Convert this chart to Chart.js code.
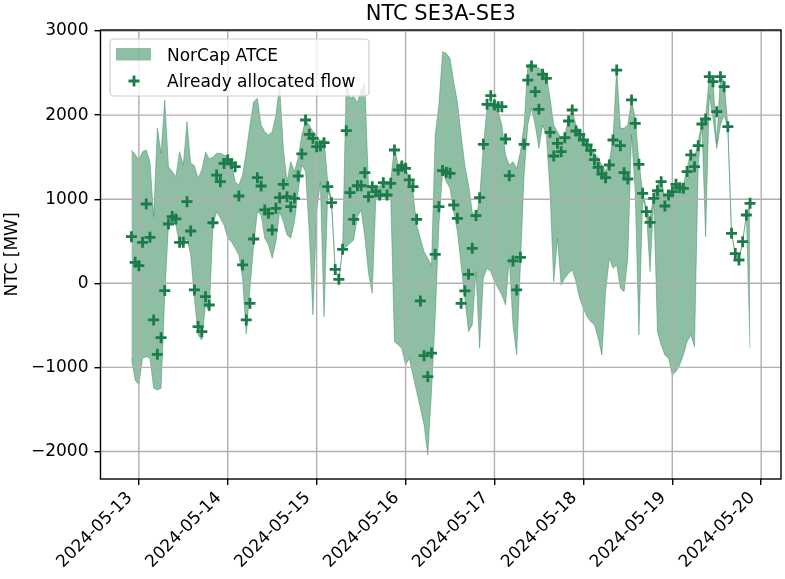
<!DOCTYPE html>
<html>
<head>
<meta charset="utf-8">
<title>NTC SE3A-SE3</title>
<script src="https://cdn.jsdelivr.net/npm/chart.js@4.4.1/dist/chart.umd.min.js"></script>
<style>
  html, body { margin: 0; padding: 0; background: #fff; }
  #ntcChart { display: block; }
</style>
</head>
<body>
<canvas id="ntcChart" width="785" height="579"></canvas>
<script>
// Hourly series, first value is 2024-05-12 22:00 (UTC), last is 2024-05-19 21:00
const firstHour = -2;   // hours relative to 2024-05-13 00:00

const upperAtce = [
  1585, 1534, 1466, 1565, 1585, 1447, 793, 1843, 1546, 2180, 1387, 1328,
  1268, 1565, 1407, 1922, 1427, 1400, 1250, 1350, 1560, 1480, 1500, 1546,
  1546, 1526, 1506, 1450, 1209, 1169, 1288, 1565, 1882, 2160, 2200, 1882,
  1803, 1764, 1803, 2001, 2358, 1605, 1209, 1446, 1328, 1486, 1764, 1942,
  1882, 1803, 1764, 1684, 1724, 1200, 1000, 165, 47, 404, 2420, 2200,
  2220, 2150, 2300, 2380, 1149, 1149, 1169, 1149, 1228, 1189, 1228, 1625,
  1407, 1446, 1367, 1248, 1090, 693, 535, 376, 297, 218, 1764, 2120,
  2754, 2734, 2675, 2398, 2160, 1764, 1407, 1169, 852, 773, 1010, 1645,
  2081, 2180, 2120, 2041, 1882, 1526, 1407, 1446, 1367, 1565, 1882, 2596,
  2615, 2576, 2556, 2536, 2477, 2200, 1882, 1803, 1724, 1764, 1962, 2061,
  1882, 1803, 1724, 1664, 1625, 1546, 1486, 1407, 1328, 1446, 1724, 2556,
  1843, 1843, 1882, 2180, 1962, 1446, 1090, 892, 773, 1050, 1169, 1248,
  1010, 1070, 1110, 1209, 1169, 1169, 1367, 1565, 1486, 1684, 1922, 1962,
  2477, 2437, 1664, 2477, 2398, 1880, 594, 354, 277, 495, 812, 951
];

const lowerAtce = [
  -892, -1149, -1209, -892, -872, -892, -1248, -1268, -1248, -139, 693, 733,
  693, 456, 456, 535, 337, -178, -614, -674, -258, -337, 693, 852,
  773, 693, 535, 495, 416, 337, 59, -600, -59, 456, 852, 812,
  535, 456, 297, 495, 852, 733, 575, 535, 733, 1090, 1407, 1328,
  614, -376, 852, 1209, -400, 1100, 950, 165, 47, 404, 435, 475,
  515, 792, 871, 554, 119, -119, 1030, 990, 1030, 1010, 1030, -694,
  -733, -773, -971, -892, -1090, -1288, -1486, -1684, -2041, -1288, -416, 693,
  1328, 1209, 1129, 852, 614, 218, -178, -575, -495, 139, -773, 59,
  178, 139, 20, -59, -139, -258, 297, -495, -852, 218, 1288, 1882,
  2081, 1882, 1605, 1882, 1764, 1090, 20, 535, -20, 59, 119, 159,
  20, -178, -297, -396, -456, -495, -654, -852, -99, 297, 178, 218,
  -59, -99, 297, 1764, 1090, -614, 1010, 852, 139, 1010, -575, -733,
  -852, -892, -1090, -1050, -971, -852, -694, -614, -754, 1407, 1882, 555,
  2239, 1962, 1605, 1882, 2001, 1840, 594, 354, 277, 495, 812, -773
];

const allocatedFlow = [
  555, 250, 210, 487, 943, 547, -436, -844, -646, -87, 705, 793,
  765, 487, 487, 971, 622, -79, -515, -575, -159, -258, 720, 1287,
  1208, 1426, 1466, 1426, 1387, 1038, 218, -436, -238, 527, 1256, 1157,
  872, 832, 634, 892, 1018, 1177, 1030, 911, 1010, 1276, 1538, 1942,
  1771, 1724, 1625, 1632, 1672, 1149, 959, 165, 47, 404, 1815, 1078,
  760, 1160, 1160, 1315, 1030, 1149, 1090, 1050, 1197, 1050, 1189, 1585,
  1347, 1395, 1367, 1229, 1149, 761, -210, -860, -1110, -830, 345, 911,
  1340, 1320, 1308, 931, 773, -238, -91, 107, 416, 805, 1018, 1653,
  2128, 2231, 2120, 2100, 2100, 1716, 1280, 266, -79, 309, 1653, 2417,
  2584, 2279, 2069, 2485, 2437, 1795, 1514, 1664, 1565, 1732, 1930, 2061,
  1811, 1771, 1704, 1645, 1580, 1470, 1380, 1300, 1256, 1407, 1704, 2536,
  1637, 1316, 1240, 2180, 1902, 1415, 1070, 852, 725, 1010, 1102, 1209,
  919, 1050, 1090, 1177, 1137, 1129, 1328, 1526, 1387, 1637, 1894, 1954,
  2457, 2398, 2041, 2457, 2338, 1863, 594, 354, 277, 495, 812, 951
];

const dayTicks = [0, 24, 48, 72, 96, 120, 144, 168];
const dayLabels = ['2024-05-13', '2024-05-14', '2024-05-15', '2024-05-16',
                   '2024-05-17', '2024-05-18', '2024-05-19', '2024-05-20'];
const yTicks = [-2000, -1000, 0, 1000, 2000, 3000];

const chartTitle = 'NTC SE3A-SE3';
const yTitle = 'NTC [MW]';

const markColor = 'rgb(27, 124, 73)';
const bandColor = 'rgba(30, 128, 76, 0.5)';
const fontFamily = "'DejaVu Sans', sans-serif";

// hour offsets for every sample
const hours = upperAtce.map((_, i) => firstHour + i);
const toPoints = arr => arr.map((v, i) => ({ x: hours[i], y: v }));

function fmtTick(v) {
  return v < 0 ? '\u2212' + Math.abs(v) : String(v);
}

// gridlines sit above the band but below the markers
function drawGrid(chart) {
  const { ctx, chartArea: a, scales: { x, y } } = chart;
  ctx.save();
  ctx.strokeStyle = '#b0b0b0';
  ctx.lineWidth = 1.4;
  ctx.beginPath();
  dayTicks.forEach(v => {
    const px = x.getPixelForValue(v);
    ctx.moveTo(px, a.top);
    ctx.lineTo(px, a.bottom);
  });
  yTicks.forEach(v => {
    const py = y.getPixelForValue(v);
    ctx.moveTo(a.left, py);
    ctx.lineTo(a.right, py);
  });
  ctx.stroke();
  ctx.restore();
}

function drawCross(ctx, cx, cy, r, w) {
  ctx.save();
  ctx.strokeStyle = markColor;
  ctx.lineWidth = w;
  ctx.beginPath();
  ctx.moveTo(cx - r, cy);
  ctx.lineTo(cx + r, cy);
  ctx.moveTo(cx, cy - r);
  ctx.lineTo(cx, cy + r);
  ctx.stroke();
  ctx.restore();
}

function roundRect(ctx, x, y, w, h, r) {
  ctx.beginPath();
  ctx.moveTo(x + r, y);
  ctx.lineTo(x + w - r, y);
  ctx.arcTo(x + w, y, x + w, y + r, r);
  ctx.lineTo(x + w, y + h - r);
  ctx.arcTo(x + w, y + h, x + w - r, y + h, r);
  ctx.lineTo(x + r, y + h);
  ctx.arcTo(x, y + h, x, y + h - r, r);
  ctx.lineTo(x, y + r);
  ctx.arcTo(x, y, x + r, y, r);
  ctx.closePath();
}

const decorPlugin = {
  id: 'decor',
  beforeDatasetDraw(chart, args) {
    if (args.meta.type === 'scatter') drawGrid(chart);
  },
  afterDraw(chart) {
    const { ctx, chartArea: a } = chart;
    ctx.save();

    // axes frame
    ctx.strokeStyle = '#000';
    ctx.lineWidth = 1.4;
    ctx.strokeRect(a.left, a.top, a.right - a.left, a.bottom - a.top);

    // title
    ctx.fillStyle = '#000';
    ctx.font = '21px ' + fontFamily;
    ctx.textAlign = 'center';
    ctx.textBaseline = 'alphabetic';
    ctx.fillText(chartTitle, (a.left + a.right) / 2, 20);

    // legend box
    const lx = a.left + 9.5, ly = a.top + 9, lw = 259, lh = 57;
    roundRect(ctx, lx, ly, lw, lh, 4);
    ctx.fillStyle = 'rgba(255,255,255,0.8)';
    ctx.fill();
    ctx.strokeStyle = '#cccccc';
    ctx.lineWidth = 1.2;
    ctx.stroke();

    const ds = chart.data.datasets;
    ctx.fillStyle = bandColor;
    ctx.fillRect(lx + 6, ly + 9, 35, 12.5);
    drawCross(ctx, lx + 24, ly + 42, 5.5, 2.8);

    ctx.fillStyle = '#000';
    ctx.font = '17px ' + fontFamily;
    ctx.textAlign = 'left';
    ctx.fillText(ds[0].label, lx + 57, ly + 21.5);
    ctx.fillText(ds[2].label, lx + 57, ly + 48);
    ctx.restore();
  }
};

Chart.defaults.font.family = fontFamily;
Chart.defaults.color = '#000';

new Chart(document.getElementById('ntcChart'), {
  type: 'line',
  data: {
    datasets: [
      {
        label: 'NorCap ATCE',
        data: toPoints(upperAtce),
        fill: '+1',
        backgroundColor: bandColor,
        borderColor: bandColor,
        borderWidth: 0.8,
        pointRadius: 0,
        tension: 0,
        order: 1
      },
      {
        label: 'lower',
        data: toPoints(lowerAtce),
        fill: false,
        borderColor: bandColor,
        borderWidth: 0.8,
        pointRadius: 0,
        tension: 0,
        order: 1
      },
      {
        type: 'scatter',
        label: 'Already allocated flow',
        data: toPoints(allocatedFlow),
        pointStyle: 'cross',
        pointRadius: 5.5,
        borderWidth: 2.8,
        borderColor: markColor,
        backgroundColor: markColor,
        order: 0
      }
    ]
  },
  options: {
    responsive: false,
    animation: false,
    devicePixelRatio: 1,
    events: [],
    layout: {
      autoPadding: false,
      padding: { top: 30, right: 4, left: 0, bottom: 0 }
    },
    plugins: {
      legend: { display: false },
      tooltip: { enabled: false },
      title: { display: false }
    },
    scales: {
      x: {
        type: 'linear',
        min: -10.35,
        max: 173.35,
        afterBuildTicks: axis => { axis.ticks = dayTicks.map(v => ({ value: v })); },
        afterFit: axis => {
          axis.height = 100;
          axis.paddingLeft = 0;
          axis.paddingRight = 0;
        },
        border: { display: false },
        grid: {
          drawOnChartArea: false,
          color: '#000',
          tickColor: '#000',
          tickLength: 6,
          lineWidth: 1.4
        },
        ticks: {
          autoSkip: false,
          minRotation: 45,
          maxRotation: 45,
          padding: 3,
          labelOffset: -9,
          font: { size: 17 },
          callback: (v, i) => dayLabels[i]
        }
      },
      y: {
        type: 'linear',
        min: -2327,
        max: 3012,
        afterBuildTicks: axis => { axis.ticks = yTicks.map(v => ({ value: v })); },
        afterFit: axis => { axis.width = 100.5; },
        border: { display: false },
        grid: {
          drawOnChartArea: false,
          color: '#000',
          tickColor: '#000',
          tickLength: 6,
          lineWidth: 1.4
        },
        ticks: {
          padding: 6,
          font: { size: 17 },
          callback: v => fmtTick(v)
        },
        title: {
          display: true,
          text: yTitle,
          font: { size: 17 },
          padding: { top: 2, bottom: 0 }
        }
      }
    }
  },
  plugins: [decorPlugin]
});
</script>
</body>
</html>
